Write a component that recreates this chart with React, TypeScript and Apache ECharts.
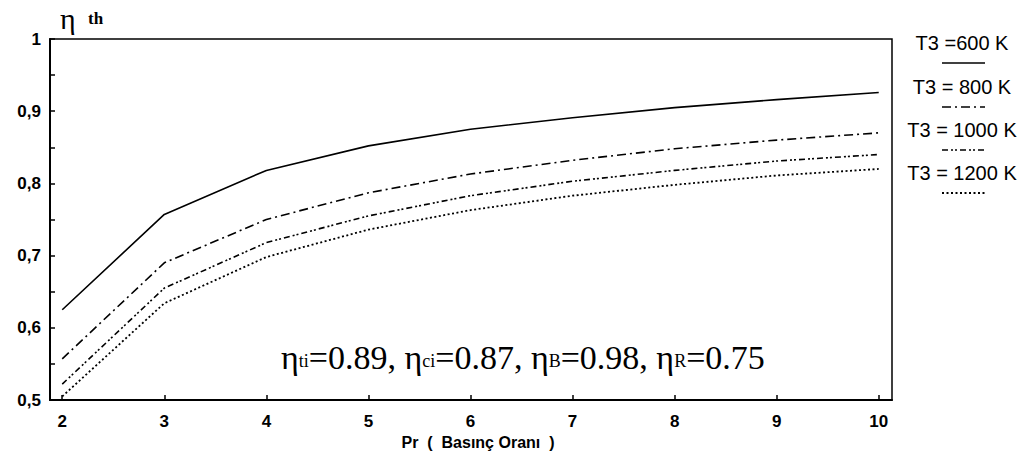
import React, { useEffect, useRef } from "react";
import * as echarts from "echarts";

// Pressure ratio (x) and thermal efficiency (y) for each turbine inlet temperature
const pressureRatios = [2, 3, 4, 5, 6, 7, 8, 9, 10];
const eff600 = [0.625, 0.757, 0.818, 0.852, 0.875, 0.891, 0.905, 0.916, 0.926];
const eff800 = [0.557, 0.69, 0.75, 0.787, 0.813, 0.832, 0.848, 0.86, 0.87];
const eff1000 = [0.522, 0.655, 0.718, 0.755, 0.783, 0.803, 0.818, 0.831, 0.84];
const eff1200 = [0.505, 0.634, 0.698, 0.736, 0.763, 0.783, 0.798, 0.811, 0.82];

const seriesNames = ["T3 =600 K", "T3 = 800 K", "T3 = 1000 K", "T3 = 1200 K"];
const seriesValues = [eff600, eff800, eff1000, eff1200];
const dashPatterns: (string | number[])[] = ["solid", [9, 4, 2, 4], [6, 3, 2, 2, 2, 3], [2, 2.5]];
const lineWidths = [1.6, 1.6, 1.6, 1.8];

const xTickValues = [2, 3, 4, 5, 6, 7, 8, 9, 10];

const sans = "'Liberation Sans', Arial, sans-serif";
const serif = "'Liberation Serif', 'Times New Roman', serif";

export default function App() {
  const ref = useRef<HTMLDivElement>(null);

  useEffect(() => {
    if (!ref.current) return;
    const chart = echarts.init(ref.current, undefined, { renderer: "svg" });

    // Key on the right: label text with its line sample underneath
    const legendGraphics: any[] = [];
    const legendRows = [46, 90, 133, 176];
    seriesNames.forEach((name, i) => {
      legendGraphics.push({
        type: "text",
        x: 962,
        y: legendRows[i] - 3,
        style: {
          text: name,
          font: `20px ${sans}`,
          fill: "#000",
          textAlign: "center",
          textVerticalAlign: "middle",
        },
      });
      legendGraphics.push({
        type: "line",
        shape: { x1: 942, y1: legendRows[i] + 17, x2: 985, y2: legendRows[i] + 17 },
        style: {
          stroke: "#000",
          lineWidth: lineWidths[i],
          lineDash: dashPatterns[i] === "solid" ? null : (dashPatterns[i] as number[]),
        },
      });
    });

    const main = { fontFamily: serif, fontSize: 34, color: "#000", verticalAlign: "bottom" };
    const sub = {
      fontFamily: serif,
      fontSize: 18,
      color: "#000",
      verticalAlign: "bottom",
      padding: [0, 0, 4, 0],
    };

    chart.setOption({
      animation: false,
      backgroundColor: "#fff",
      grid: {
        left: 50,
        right: 132,
        top: 39,
        bottom: 72,
        show: true,
        borderColor: "#000",
        borderWidth: 1.5,
        containLabel: false,
      },
      xAxis: {
        type: "value",
        min: 1.88,
        max: 10.13,
        name: "Pr  (  Basınç Oranı  )",
        nameLocation: "middle",
        nameGap: 31,
        nameTextStyle: {
          fontFamily: sans,
          fontSize: 16,
          fontWeight: "bold",
          color: "#000",
          verticalAlign: "top",
          padding: [0, 0, 0, 14],
        },
        axisLine: { show: true, onZero: false, lineStyle: { color: "#000", width: 2 } },
        axisTick: {
          show: true,
          inside: true,
          length: 5,
          customValues: xTickValues,
          lineStyle: { color: "#000", width: 1.5 },
        },
        axisLabel: {
          customValues: xTickValues,
          margin: 13,
          fontFamily: sans,
          fontSize: 17,
          fontWeight: "bold",
          color: "#000",
        },
        splitLine: { show: false },
      },
      yAxis: {
        type: "value",
        min: 0.5,
        max: 1,
        interval: 0.1,
        axisLine: { show: true, onZero: false, lineStyle: { color: "#000", width: 2 } },
        axisTick: { show: true, inside: true, length: 5, lineStyle: { color: "#000", width: 1.5 } },
        minorTick: { show: true, splitNumber: 2, length: 5, lineStyle: { color: "#000", width: 1.5 } },
        axisLabel: {
          margin: 9,
          fontFamily: sans,
          fontSize: 17,
          fontWeight: "bold",
          color: "#000",
          formatter: (v: number) => (Math.abs(v - 1) < 1e-9 ? "1" : v.toFixed(1).replace(".", ",")),
        },
        splitLine: { show: false },
      },
      series: seriesValues.map((vals, i) => ({
        name: seriesNames[i],
        type: "line",
        data: pressureRatios.map((x, j) => [x, vals[j]]),
        showSymbol: false,
        symbol: "none",
        smooth: false,
        lineStyle: { color: "#000", width: lineWidths[i], type: dashPatterns[i] },
      })),
      graphic: [
        {
          type: "text",
          x: 60,
          y: 18,
          style: {
            text: "η",
            font: `30px ${serif}`,
            fill: "#000",
            textVerticalAlign: "middle",
          },
        },
        {
          type: "text",
          x: 88,
          y: 18,
          style: {
            text: "th",
            font: `bold 17px ${serif}`,
            fill: "#000",
            textVerticalAlign: "middle",
          },
        },
        {
          type: "text",
          x: 281,
          y: 357,
          style: {
            text: "{m|η}{s|ti}{m|=0.89, η}{s|ci}{m|=0.87, η}{s|B}{m|=0.98, η}{s|R}{m|=0.75}",
            textVerticalAlign: "middle",
            rich: { m: main, s: sub },
          },
        },
        ...legendGraphics,
      ],
    });

    return () => chart.dispose();
  }, []);

  return (
    <div
      ref={ref}
      style={{ position: "fixed", left: 0, top: 0, width: 1024, height: 472, background: "#fff" }}
    />
  );
}
